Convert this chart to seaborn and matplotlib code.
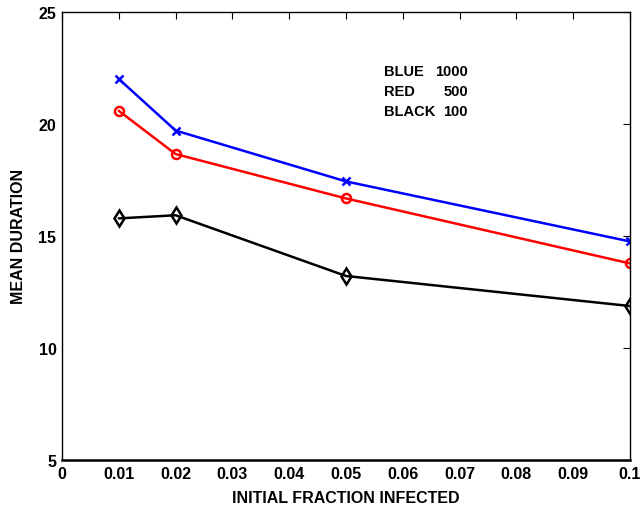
import matplotlib
matplotlib.use("Agg")
import matplotlib.pyplot as plt
import seaborn as sns
import pandas as pd

# Initial fraction infected (x) and mean outbreak duration for three population sizes
fraction = [0.01, 0.02, 0.05, 0.1]
duration_1000 = [22.0, 19.7, 17.43, 14.75]
duration_500 = [20.58, 18.65, 16.67, 13.77]
duration_100 = [15.78, 15.92, 13.21, 11.87]

x_ticks = [0, 0.01, 0.02, 0.03, 0.04, 0.05, 0.06, 0.07, 0.08, 0.09, 0.1]
x_tick_labels = ["0", "0.01", "0.02", "0.03", "0.04", "0.05", "0.06", "0.07", "0.08", "0.09", "0.1"]
y_ticks = [5, 10, 15, 20, 25]

sns.set_theme(style="white")
plt.rcParams["font.family"] = ["Liberation Sans", "DejaVu Sans"]
plt.rcParams["font.weight"] = "bold"
plt.rcParams["text.color"] = "black"
plt.rcParams["axes.labelcolor"] = "black"
plt.rcParams["xtick.color"] = "black"
plt.rcParams["ytick.color"] = "black"

fig = plt.figure(figsize=(6.44, 5.10), dpi=100)
ax = fig.add_axes([0.0963, 0.0961, 0.8819, 0.8789])

series = [
    (duration_1000, "blue", "x", 6),
    (duration_500, "red", "o", 6.5),
    (duration_100, "black", "d", 8),
]
for values, color, marker, msize in series:
    df = pd.DataFrame({"fraction": fraction, "duration": values})
    sns.lineplot(data=df, x="fraction", y="duration", ax=ax, color=color,
                 marker=marker, markersize=msize, markerfacecolor="none",
                 markeredgecolor=color, markeredgewidth=1.8, linewidth=1.8)

ax.set_xlim(0, 0.1)
ax.set_ylim(5, 25)
ax.set_xticks(x_ticks)
ax.set_xticklabels(x_tick_labels)
ax.set_yticks(y_ticks)
ax.tick_params(axis="both", which="major", direction="in", length=5, width=0.8,
               top=True, right=True, labelsize=11.5, pad=4,
               colors="black", labelcolor="black")
for lab in ax.get_xticklabels() + ax.get_yticklabels():
    lab.set_fontweight("bold")
    lab.set_color("black")

for side in ["top", "right", "bottom", "left"]:
    ax.spines[side].set_color("black")
    ax.spines[side].set_linewidth(1.0)
ax.spines["bottom"].set_linewidth(1.8)

ax.set_xlabel("INITIAL FRACTION INFECTED", fontsize=11.5, fontweight="bold",
              labelpad=7, color="black")
ax.set_ylabel("MEAN DURATION", fontsize=11.5, fontweight="bold",
              labelpad=9, color="black")

# Key to the line colours
key_names = ["BLUE", "RED", "BLACK"]
key_sizes = ["1000", "500", "100"]
key_y = [22.37, 21.48, 20.57]
for name, size, y in zip(key_names, key_sizes, key_y):
    ax.text(0.0567, y, name, fontsize=10.5, fontweight="bold", ha="left",
            va="center", color="black")
    ax.text(0.0715, y, size, fontsize=10.5, fontweight="bold", ha="right",
            va="center", color="black")

fig.savefig("out.png", dpi=100)
